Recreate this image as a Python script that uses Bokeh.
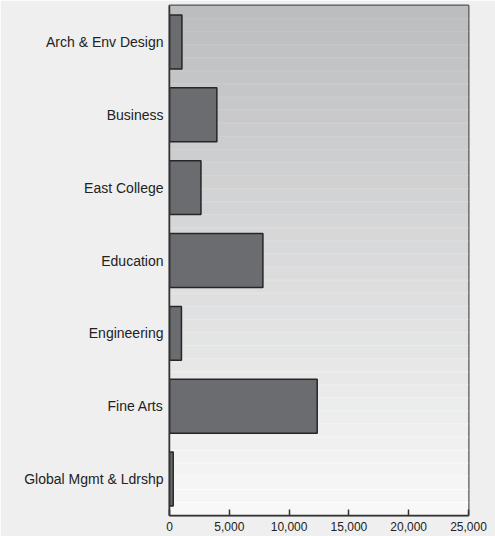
from bokeh.plotting import figure
from bokeh.models import FactorRange, Range1d, NumeralTickFormatter, FixedTicker
from bokeh.embed import file_html
from bokeh.resources import INLINE
import numpy as np

categories = ["Arch & Env Design", "Business", "East College", "Education",
              "Engineering", "Fine Arts", "Global Mgmt & Ldrshp"]
values = [1040, 3960, 2630, 7810, 1000, 12350, 310]
x_ticks = [0, 5000, 10000, 15000, 20000, 25000]
x_max = 25000

p = figure(width=495, height=536, output_backend="svg", toolbar_location=None,
           y_range=FactorRange(factors=categories[::-1], range_padding=0, factor_padding=0),
           x_range=Range1d(0, x_max),
           min_border_left=169, min_border_right=27, min_border_top=5, min_border_bottom=21,
           background_fill_color="#efefef", border_fill_color="#efefef")

# gradient background in bands
n_bands = 39
n_cat = len(categories)
edges = np.linspace(0, n_cat, n_bands + 1)
top_rgb = np.array([188, 189, 191])
bot_rgb = np.array([248, 248, 248])
cols = []
lcols = []
for i in range(n_bands):
    t = i / (n_bands - 1)  # 0 bottom .. 1 top
    c = bot_rgb + (top_rgb - bot_rgb) * t
    cols.append("#%02x%02x%02x" % tuple(int(round(v)) for v in c))
    lc = np.minimum(c + 6, 252)
    lcols.append("#%02x%02x%02x" % tuple(int(round(v)) for v in lc))
p.quad(left=0, right=x_max, bottom=edges[:-1], top=edges[1:], fill_color=cols, line_color=None)
p.segment(x0=0, x1=x_max, y0=edges[1:-1], y1=edges[1:-1], line_color=lcols[1:], line_width=1.2)

p.hbar(y=categories, right=values, left=0, height=0.74,
       fill_color="#6b6c70", line_color="#262626", line_width=1.5)

p.xgrid.visible = False
p.ygrid.visible = False
p.outline_line_color = "#555555"
p.outline_line_width = 2

xa = p.xaxis[0]
xa.ticker = FixedTicker(ticks=x_ticks)
xa.formatter = NumeralTickFormatter(format="0,0")
xa.major_tick_in = 6
xa.major_tick_out = 0
xa.minor_tick_line_color = None
xa.axis_line_color = "#333333"
xa.axis_line_width = 1.5
xa.major_tick_line_color = "#333333"
xa.major_tick_line_width = 1.5
xa.major_label_text_font = "Liberation Sans"
xa.major_label_text_font_size = "12px"
xa.major_label_text_color = "#222222"
xa.major_label_standoff = 6

ya = p.yaxis[0]
ya.major_tick_in = 0
ya.major_tick_out = 0
ya.minor_tick_line_color = None
ya.axis_line_color = "#333333"
ya.axis_line_width = 1.5
ya.major_label_text_font = "Liberation Sans"
ya.major_label_text_font_size = "14px"
ya.major_label_text_color = "#222222"
ya.major_label_standoff = 6

open("out.html", "w").write(file_html(p, INLINE))
